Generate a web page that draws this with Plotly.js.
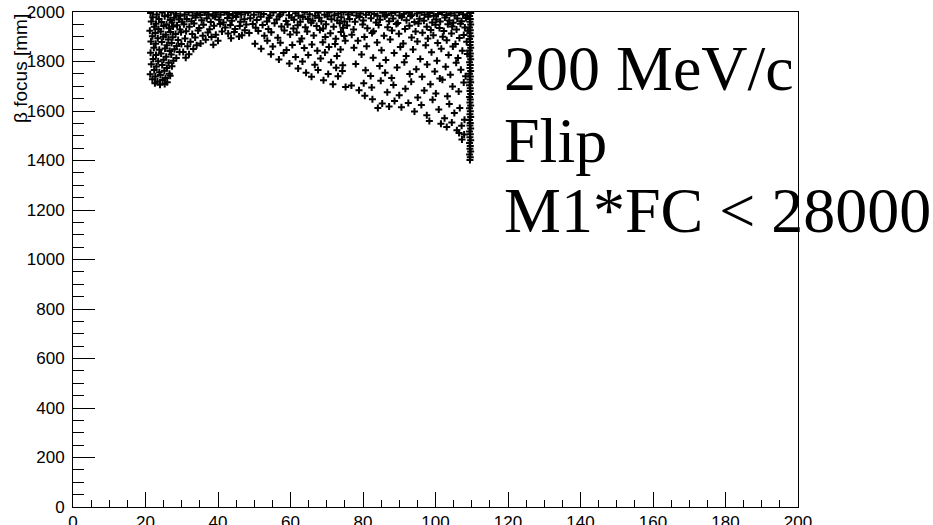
<!DOCTYPE html>
<html><head><meta charset="utf-8">
<script src="https://cdn.plot.ly/plotly-3.0.1.min.js"></script>
<style>html,body{margin:0;padding:0;background:#fff}</style>
</head><body><div id="chart" style="width:933px;height:525px"></div>
<script>
// Point cloud, grouped by region: [x, beta focus (mm)]
const leftCluster = [
[21.4,1996],[23.1,1990],[24.6,1998],[26.2,1987],[27.0,1999],[28.4,1993],[29.6,1985],
[22.0,1979],[23.7,1972],[25.3,1983],[26.8,1968],[27.9,1977],[29.2,1970],
[21.6,1962],[22.9,1953],[24.4,1960],[25.8,1949],[27.3,1958],[28.7,1946],[30.1,1961],
[22.4,1940],[23.6,1931],[25.0,1943],[26.5,1934],[27.6,1941],[29.5,1929],
[21.2,1924],[22.7,1915],[24.2,1921],[25.6,1908],[26.9,1919],[28.3,1911],[29.8,1918],
[21.9,1902],[23.4,1894],[24.9,1900],[26.3,1889],[27.5,1898],[29.0,1887],
[21.5,1881],[22.8,1872],[24.5,1879],[25.9,1866],[27.2,1875],[28.6,1863],[29.9,1871],
[22.3,1856],[23.8,1847],[25.4,1853],[26.7,1842],[28.0,1850],[29.4,1838],
[21.4,1835],[22.9,1826],[24.3,1832],[25.7,1819],[27.1,1828],[28.5,1814],
[22.1,1810],[23.5,1801],[25.0,1807],[26.4,1795],[27.7,1803],
[21.6,1789],[23.0,1780],[24.6,1786],[25.9,1774],[27.3,1781],
[22.4,1766],[23.8,1757],[25.2,1763],[26.6,1751],
[21.3,1748],[22.7,1739],[24.1,1745],[25.5,1733],[26.8,1742],
[21.9,1728],[23.3,1719],[24.7,1725],[26.0,1716],
[22.6,1712],[24.0,1706],[25.3,1709]
];
const midLeft = [
[30.8,1990],[31.9,1999],[33.0,1986],[34.2,1995],[35.1,1988],[36.3,1998],[37.4,1991],[38.6,1985],[39.5,1997],[40.7,1989],[41.8,1999],[43.0,1992],[44.1,1986],[45.3,1996],[46.4,1990],[47.5,1999],
[31.4,1972],[32.7,1963],[33.8,1978],[35.5,1967],[36.9,1975],[38.0,1960],[39.2,1981],[40.3,1969],[41.5,1958],[42.6,1976],[43.8,1965],[45.0,1980],[46.2,1961],[47.3,1971],
[30.6,1951],[32.1,1940],[33.4,1954],[34.8,1935],[36.0,1948],[37.7,1930],[38.9,1944],[40.6,1952],[42.0,1937],[43.4,1947],[44.7,1931],[46.0,1943],[47.8,1950],
[31.2,1922],[32.9,1911],[34.5,1925],[35.8,1904],[37.2,1917],[39.4,1908],[41.1,1921],[42.8,1913],[44.5,1919],[46.6,1906],[47.4,1926],
[30.9,1893],[32.4,1880],[33.7,1897],[35.2,1873],[36.6,1888],[38.2,1899],[40.0,1884],[43.6,1894],[45.8,1901],
[31.6,1862],[33.2,1851],[34.1,1866],[38.7,1868],[30.4,1838],[32.0,1829],[31.1,1815]
];
const midRight = [
[48.3,1997],[49.9,1989],[51.2,1999],[52.6,1992],[54.4,1986],[55.3,1998],[57.1,1990],[58.0,1999],[59.6,1987],[61.4,1995],[62.2,1986],[63.9,1999],[65.3,1991],[66.8,1985],[67.6,1997],[69.4,1989],[70.7,1998],[72.1,1987],[73.2,1994],[74.6,1999],
[48.9,1975],[50.7,1968],[51.8,1981],[53.5,1962],[54.1,1977],[56.2,1970],[56.9,1983],[58.8,1964],[60.3,1978],[61.0,1969],[62.7,1961],[63.4,1980],[64.8,1972],[66.1,1965],[67.9,1977],[68.5,1963],[70.2,1982],[71.3,1971],[72.9,1966],[74.0,1979],[74.9,1962],
[49.6,1952],[50.4,1936],[52.3,1947],[53.9,1931],[55.6,1955],[57.5,1941],[59.2,1950],[60.8,1933],[62.0,1946],[64.1,1938],[65.7,1957],[67.2,1943],[69.0,1933],[69.8,1951],[71.9,1940],[73.6,1955],[74.5,1936],
[48.6,1915],[51.1,1923],[52.8,1904],[54.7,1918],[56.5,1896],[58.3,1925],[59.9,1909],[61.7,1917],[63.1,1893],[64.6,1921],[66.4,1905],[68.1,1927],[69.6,1899],[71.0,1914],[72.5,1892],[73.9,1919],[74.8,1903],
[50.2,1872],[51.9,1852],[53.6,1884],[55.1,1861],[57.2,1876],[58.9,1846],[60.5,1867],[62.6,1881],[63.8,1855],[65.9,1869],[67.4,1843],[68.9,1878],[70.6,1859],[72.3,1871],[73.8,1848],[75.1,1884],
[54.6,1829],[56.8,1808],[58.1,1834],[59.7,1792],[61.4,1818],[63.3,1800],[64.9,1826],[66.7,1787],[68.3,1812],[69.5,1836],[71.2,1797],[72.8,1822],[74.4,1785],
[62.1,1772],[64.3,1755],[65.8,1738],[67.6,1766],[69.1,1724],[70.4,1750],[71.7,1708],[73.1,1740],[74.3,1762],[75.2,1697],[72.6,1775]
];
const rightBlock = [
[75.9,1990],[77.0,1998],[78.2,1986],[79.3,1995],[80.8,1989],[81.7,1999],[83.1,1992],[84.0,1985],[85.4,1997],[86.5,1988],[87.8,1995],[88.9,1999],[90.1,1986],[91.3,1993],[92.6,1998],[93.5,1987],[94.9,1994],[96.1,1999],[97.0,1989],[98.4,1996],[99.5,1985],[100.7,1992],[101.8,1999],[103.0,1988],[104.2,1995],[105.3,1986],[106.5,1998],[107.6,1991],[108.7,1985],
[76.3,1972],[77.8,1961],[79.0,1980],[80.1,1966],[82.2,1975],[83.6,1958],[84.7,1969],[86.0,1982],[87.2,1963],[88.3,1974],[89.6,1956],[90.7,1979],[92.0,1967],[93.1,1984],[94.2,1960],[95.6,1973],[96.8,1965],[98.0,1981],[99.1,1958],[100.2,1970],[101.3,1962],[102.6,1978],[103.8,1966],[104.9,1957],[106.0,1974],[107.2,1963],[108.4,1976],
[75.6,1945],[77.4,1929],[79.9,1950],[81.2,1934],[82.9,1922],[84.3,1947],[86.8,1938],[88.0,1925],[89.2,1952],[91.6,1931],[92.8,1944],[94.5,1921],[95.3,1954],[97.6,1940],[98.7,1927],[100.0,1948],[101.1,1935],[102.3,1923],[103.4,1951],[104.6,1941],[105.8,1929],[106.9,1953],[108.1,1937],[108.9,1924],
[76.9,1908],[78.6,1884],[80.4,1899],[82.5,1915],[83.9,1877],[85.8,1904],[87.5,1889],[89.9,1912],[91.1,1873],[93.4,1897],[95.0,1881],[96.4,1916],[97.9,1893],[99.4,1906],[100.6,1875],[102.0,1900],[103.1,1886],[104.4,1913],[105.5,1871],[106.6,1895],[107.8,1907],[108.6,1880],
[77.5,1856],[79.6,1828],[81.0,1862],[82.8,1815],[85.1,1845],[86.3,1806],[88.6,1834],[90.3,1859],[91.9,1822],[93.8,1848],[95.8,1810],[97.3,1866],[98.9,1837],[100.4,1803],[101.6,1852],[103.6,1826],[104.8,1861],[106.2,1814],[107.4,1843],[108.8,1830],
[78.0,1790],[80.7,1765],[82.1,1741],[84.6,1782],[86.1,1755],[87.9,1733],[89.4,1776],[91.4,1797],[92.9,1750],[94.7,1769],[96.3,1738],[97.7,1788],[99.8,1760],[101.2,1731],[102.8,1779],[104.1,1746],[105.7,1795],[107.0,1767],[108.3,1740],
[80.2,1712],[82.4,1695],[84.9,1722],[86.7,1676],[88.4,1705],[90.0,1664],[91.7,1690],[93.3,1718],[95.1,1655],[96.9,1683],[98.6,1708],[100.1,1671],[101.9,1726],[103.3,1660],[104.7,1699],[106.4,1679],[107.8,1715],
[76.8,1703],[78.9,1684],[80.5,1662],[82.6,1647],[84.1,1612],[85.3,1630],[87.2,1618],
[88.7,1640],[90.6,1615],[92.5,1632],[94.2,1598],[96.1,1624],[97.6,1583],[99.2,1645],[100.9,1606],[102.5,1571],[103.8,1628],[105.2,1592],[106.7,1612],[108.0,1565],[98.3,1560],
[101.5,1548],[103.1,1535],[104.5,1554],[105.9,1522],[107.2,1540],[107.9,1505],[107.3,1485],[106.5,1511]
];
const edgeLine = [
[109.5,1402],[109.6,1413],[109.4,1424],[109.7,1436],[109.5,1447],[109.6,1459],[109.4,1471],[109.7,1482],[109.5,1494],[109.6,1506],
[109.4,1517],[109.7,1529],[109.5,1541],[109.6,1552],[109.4,1564],[109.7,1576],[109.5,1587],[109.6,1599],[109.4,1611],[109.7,1622],
[109.5,1634],[109.6,1646],[109.4,1657],[109.7,1669],[109.5,1681],[109.6,1692],[109.4,1704],[109.7,1716],[109.5,1727],[109.6,1739],
[109.4,1751],[109.7,1762],[109.5,1774],[109.6,1786],[109.4,1797],[109.7,1809],[109.5,1821],[109.6,1832],[109.4,1844],[109.7,1856],
[109.5,1867],[109.6,1879],[109.4,1891],[109.7,1902],[109.5,1914],[109.6,1926],[109.4,1937],[109.7,1949],[109.5,1961],[109.6,1972],
[109.4,1984],[109.7,1996]
];
const labelLines = ["200 MeV/c", "Flip", "M1*FC < 28000"];
const labelY = [1772, 1482, 1200];
const yTitle = "β focus [mm]";

const pts = [].concat(leftCluster, midLeft, midRight, rightBlock, edgeLine);
const trace = {
  type: 'scatter', mode: 'markers',
  x: pts.map(p => p[0]), y: pts.map(p => p[1]),
  marker: {symbol: 'cross-thin', size: 5, color: '#000', line: {color: '#000', width: 2}},
  hoverinfo: 'skip'
};
const tickFont = {family: 'Liberation Sans, Arial, sans-serif', size: 17, color: '#000'};
const layout = {
  width: 933, height: 525,
  margin: {l: 73, r: 135, t: 12, b: 18, pad: 0},
  paper_bgcolor: '#fff', plot_bgcolor: '#fff',
  showlegend: false,
  xaxis: {
    range: [0, 200], dtick: 20, tick0: 0, ticks: 'inside', ticklen: 15, tickwidth: 1, tickcolor: '#000',
    minor: {dtick: 5, ticks: 'inside', ticklen: 7, tickwidth: 1, tickcolor: '#000'},
    showline: true, linecolor: '#000', linewidth: 1, mirror: true,
    showgrid: false, zeroline: false, tickfont: tickFont, ticklabelstandoff: 0
  },
  yaxis: {
    range: [0, 2000], dtick: 200, tick0: 0, ticks: 'inside', ticklen: 22, tickwidth: 1, tickcolor: '#000',
    minor: {dtick: 50, ticks: 'inside', ticklen: 11, tickwidth: 1, tickcolor: '#000'},
    showline: true, linecolor: '#000', linewidth: 1, mirror: true,
    showgrid: false, zeroline: false, tickfont: tickFont, ticklabelstandoff: 4
  },
  annotations: labelLines.map((t, i) => ({
    text: t, xref: 'x', yref: 'y', x: 118.3, y: labelY[i], xanchor: 'left', yanchor: 'middle',
    showarrow: false, font: {family: 'Liberation Serif, Times New Roman, serif', size: 64, color: '#000'}
  })).concat([{
    text: yTitle, xref: 'paper', yref: 'paper', x: -0.0717, y: 0.885, xanchor: 'center', yanchor: 'middle',
    textangle: -90, showarrow: false, font: {family: 'Liberation Sans, Arial, sans-serif', size: 19, color: '#000'}
  }])
};
Plotly.newPlot('chart', [trace], layout, {staticPlot: true, displayModeBar: false});
</script>
</body></html>
